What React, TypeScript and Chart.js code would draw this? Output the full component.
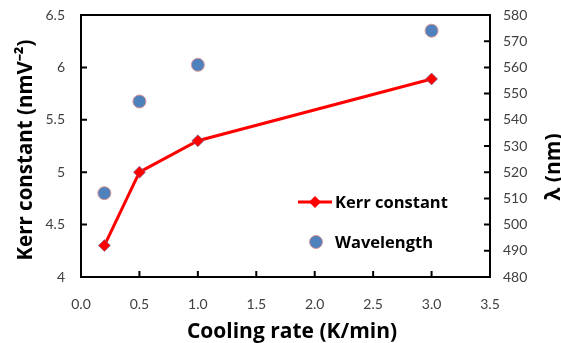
import React, { useEffect, useRef } from "react";
import { Chart, registerables } from "chart.js";
Chart.register(...registerables);

const coolingRates = [0.2, 0.5, 1.0, 3.0];
const kerrConstant = [4.3, 5.0, 5.3, 5.89];
const wavelength = [512, 547, 561, 574];
const xTitle = "Cooling rate (K/min)";
const yTitle = "Kerr constant (nmV\u207B\u00B2)";
const y1Title = "\u03BB (nm)";
const legendLabels = ["Kerr constant", "Wavelength"];

const FONT = "Lato, 'Liberation Sans', sans-serif";
const TFONT = "'Open Sans', 'Liberation Sans', sans-serif";

const framePlugin = {
  id: "frameTicks",
  afterDraw(chart: any) {
    const { ctx, chartArea: a, scales } = chart;
    ctx.save();
    ctx.strokeStyle = "#000";
    ctx.lineWidth = 2;
    ctx.strokeRect(a.left, a.top, a.right - a.left, a.bottom - a.top);
    const L = 6;
    ctx.beginPath();
    scales.x.ticks.forEach((t: any) => {
      const p = scales.x.getPixelForValue(t.value);
      ctx.moveTo(p, a.bottom);
      ctx.lineTo(p, a.bottom - L);
    });
    scales.y.ticks.forEach((t: any) => {
      const p = scales.y.getPixelForValue(t.value);
      ctx.moveTo(a.left, p);
      ctx.lineTo(a.left + L, p);
    });
    scales.y1.ticks.forEach((t: any) => {
      const p = scales.y1.getPixelForValue(t.value);
      ctx.moveTo(a.right, p);
      ctx.lineTo(a.right - L, p);
    });
    ctx.stroke();

    // axis titles
    ctx.fillStyle = "#000";
    ctx.font = `bold 21px ${TFONT}`;
    ctx.textAlign = "center";
    ctx.textBaseline = "alphabetic";
    ctx.fillText(xTitle, 292, 338);
    ctx.save();
    ctx.translate(32, 150);
    ctx.rotate(-Math.PI / 2);
    ctx.font = `bold 20.5px ${TFONT}`;
    ctx.fillText(yTitle, 0, 0);
    ctx.restore();
    ctx.save();
    ctx.translate(560, 167);
    ctx.rotate(-Math.PI / 2);
    ctx.fillText(y1Title, 0, 0);
    ctx.restore();

    // legend
    ctx.strokeStyle = "#FF0000";
    ctx.lineWidth = 3;
    ctx.beginPath();
    ctx.moveTo(298, 202);
    ctx.lineTo(332, 202);
    ctx.stroke();
    ctx.fillStyle = "#FF0000";
    ctx.beginPath();
    ctx.moveTo(315, 196);
    ctx.lineTo(321, 202);
    ctx.lineTo(315, 208);
    ctx.lineTo(309, 202);
    ctx.closePath();
    ctx.fill();
    ctx.fillStyle = "#4F81BD";
    ctx.strokeStyle = "#D99694";
    ctx.lineWidth = 1;
    ctx.beginPath();
    ctx.arc(316, 242, 6.5, 0, Math.PI * 2);
    ctx.fill();
    ctx.stroke();
    ctx.fillStyle = "#000";
    ctx.font = `bold 16.5px ${TFONT}`;
    ctx.textBaseline = "middle";
    ctx.textAlign = "left";
    ctx.fillText(legendLabels[0], 335, 203);
    ctx.fillText(legendLabels[1], 335, 243);
    ctx.restore();
  },
};

const fitV = (w: number) => (s: any) => {
  s.width = w;
  s.paddingTop = 0;
  s.paddingBottom = 0;
};

export default function App() {
  const ref = useRef<HTMLCanvasElement>(null);
  useEffect(() => {
    const tickFont = { family: FONT, size: 14 };
    const chart = new Chart(ref.current!, {
      type: "scatter",
      data: {
        datasets: [
          {
            label: legendLabels[0],
            data: coolingRates.map((x, i) => ({ x, y: kerrConstant[i] })),
            showLine: true,
            borderColor: "#FF0000",
            borderWidth: 3,
            pointStyle: "rectRot",
            pointRadius: 6,
            pointBackgroundColor: "#FF0000",
            pointBorderColor: "#5B6FB5",
            pointBorderWidth: 0.6,
            yAxisID: "y",
          },
          {
            label: legendLabels[1],
            data: coolingRates.map((x, i) => ({ x, y: wavelength[i] })),
            showLine: false,
            pointStyle: "circle",
            pointRadius: 6.5,
            pointBackgroundColor: "#4F81BD",
            pointBorderColor: "#D99694",
            pointBorderWidth: 1,
            yAxisID: "y1",
          },
        ],
      },
      options: {
        responsive: false,
        animation: false,
        layout: { padding: { top: 15, left: 0, right: 0, bottom: 0 } },
        plugins: { legend: { display: false }, tooltip: { enabled: false } },
        scales: {
          x: {
            type: "linear",
            min: 0,
            max: 3.5,
            afterFit: (s: any) => { s.height = 66; s.paddingLeft = 0; s.paddingRight = 0; },
            ticks: { stepSize: 0.5, color: "#404040", font: tickFont, padding: 19, callback: (v: any) => Number(v).toFixed(1) },
            grid: { display: false, drawTicks: false },
            border: { display: false },
          },
          y: {
            type: "linear",
            position: "left",
            min: 4,
            max: 6.5,
            afterFit: fitV(81),
            ticks: { stepSize: 0.5, color: "#404040", font: tickFont, padding: 16, callback: (v: any) => String(Number(v)) },
            grid: { display: false, drawTicks: false },
            border: { display: false },
          },
          y1: {
            type: "linear",
            position: "right",
            min: 480,
            max: 580,
            afterFit: fitV(71),
            ticks: { stepSize: 10, color: "#404040", font: tickFont, padding: 13 },
            grid: { display: false, drawTicks: false },
            border: { display: false },
          },
        },
      },
      plugins: [framePlugin],
    } as any);
    return () => chart.destroy();
  }, []);
  return (
    <div style={{ position: "fixed", left: 0, top: 0, width: 561, height: 343, background: "#fff" }}>
      <canvas ref={ref} width={561} height={343} style={{ width: 561, height: 343 }} />
    </div>
  );
}
